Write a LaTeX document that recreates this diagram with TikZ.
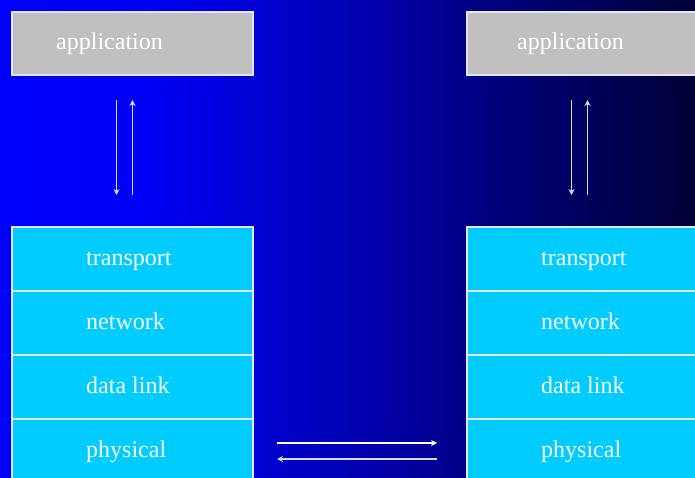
\documentclass[tikz,border=0pt]{standalone}
\usepackage{fontspec}
\setmainfont{Liberation Serif}
\usetikzlibrary{positioning, calc, arrows.meta}
\definecolor{stack-cyan}{RGB}{0,204,255}
\definecolor{app-gray}{RGB}{192,192,192}
\definecolor{bg-left}{RGB}{0,0,255}
\definecolor{bg-near}{RGB}{0,0,248}
\definecolor{bg-mid}{RGB}{0,0,180}
\definecolor{bg-far}{RGB}{0,0,128}
\definecolor{bg-right}{RGB}{0,0,55}
\pgfdeclarehorizontalshading{backdrop}{100bp}{color(0bp)=(bg-left); color(25bp)=(bg-left);
    color(35bp)=(bg-near); color(50bp)=(bg-mid); color(60bp)=(bg-far);
    color(75bp)=(bg-right); color(100bp)=(bg-right)}

\begin{document}
\begin{tikzpicture}[x=1pt, y=-1pt,
    box/.style={draw=white!90!blue, line width=1.1pt, minimum width=241pt,
        minimum height=64pt, inner sep=0pt, outer sep=0pt},
    appbox/.style={box, fill=app-gray, minimum height=63pt},
    layer/.style={box, fill=stack-cyan},
    lbl/.style={text=white, inner sep=0pt, text height=17pt, text depth=5pt,
        font=\fontsize{24}{28}\selectfont},
    flow/.style={draw=white!85!blue, line width=1.4pt, -{Stealth[length=6pt,width=6pt]}}]
    % Background
    \useasboundingbox (0,0) rectangle (695,478);
    \clip (0,0) rectangle (695,478);
    \shade[shading=backdrop] (0,0) rectangle (695,478);

    % Application boxes
    \node[appbox] (lapp) at (132.5,43.5) {};
    \node[appbox] (rapp) at (587.5,43.5) {};
    \node[lbl, right=44pt of lapp.west] {application};
    \node[lbl, right=50pt of rapp.west] {application};

    % Left stack
    \node[layer] (ltrans) at (132.5,259) {};
    \node[layer, below=0pt of ltrans] (lnet) {};
    \node[layer, below=0pt of lnet] (llink) {};
    \node[layer, below=0pt of llink] (lphys) {};

    % Right stack
    \node[layer] (rtrans) at (587.5,259) {};
    \node[layer, below=0pt of rtrans] (rnet) {};
    \node[layer, below=0pt of rnet] (rlink) {};
    \node[layer, below=0pt of rlink] (rphys) {};

    % Layer names
    \foreach \side in {l, r} {
        \node[lbl, right=74pt of \side trans.west] {transport};
        \node[lbl, right=74pt of \side net.west] {network};
        \node[lbl, right=74pt of \side link.west] {data link};
        \node[lbl, right=74pt of \side phys.west] {physical};
    }

    % Socket arrows
    \foreach \side in {l, r} {
        \draw[flow] ([xshift=-16pt, yshift=-25pt]\side app.south) -- ([xshift=-16pt, yshift=32pt]\side trans.north);
        \draw[flow] ([yshift=32pt]\side trans.north) -- ([yshift=-25pt]\side app.south);
    }

    % Link arrows
    \draw[flow, draw=white] ([xshift=24pt, yshift=8pt]lphys.east) -- ([xshift=-30pt, yshift=8pt]rphys.west);
    \draw[flow] ([xshift=-30pt, yshift=-8pt]rphys.west) -- ([xshift=24pt, yshift=-8pt]lphys.east);
\end{tikzpicture}
\end{document}
